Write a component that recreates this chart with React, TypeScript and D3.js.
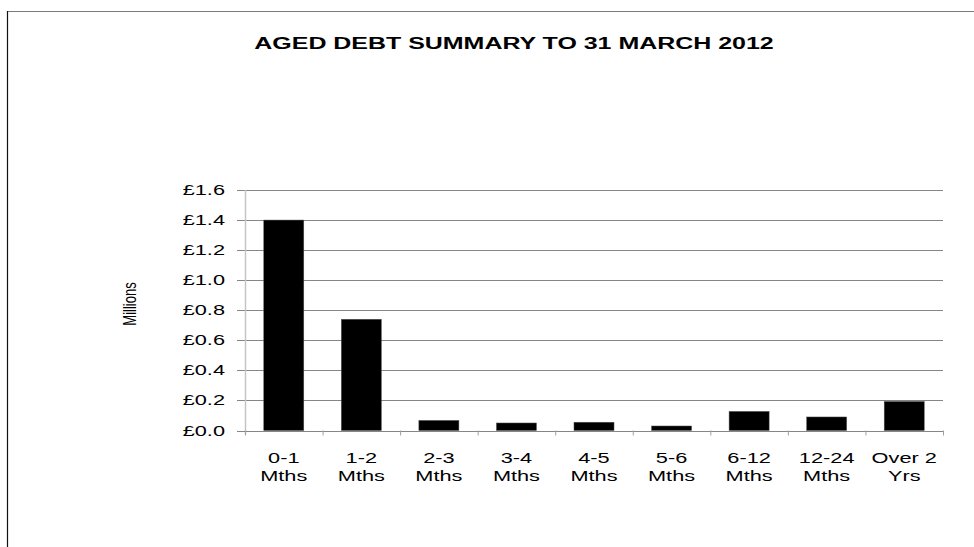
import React from "react";
import * as d3 from "d3";

const categoriesLine1 = ["0-1", "1-2", "2-3", "3-4", "4-5", "5-6", "6-12", "12-24", "Over 2"];
const categoriesLine2 = ["Mths", "Mths", "Mths", "Mths", "Mths", "Mths", "Mths", "Mths", "Yrs"];
const values = [1.40, 0.74, 0.067, 0.05, 0.055, 0.03, 0.127, 0.09, 0.193];
const yTicks = [0, 0.2, 0.4, 0.6, 0.8, 1.0, 1.2, 1.4, 1.6];
const title = "AGED DEBT SUMMARY TO 31 MARCH 2012";
const yTitle = "Millions";

const W = 974;
const H = 547;
const SX = 1.45;
const FONT = "'Liberation Sans', Arial, sans-serif";

export default function App() {
  const left = 245;
  const right = 943;
  const top = 190;
  const bottom = 430.5;
  const x = d3
    .scaleBand<number>()
    .domain(d3.range(values.length))
    .range([left, right])
    .paddingInner(0.484)
    .paddingOuter(0.242);
  const step = (right - left) / values.length;
  const y = d3.scaleLinear().domain([0, 1.6]).range([bottom, top]);

  return (
    <svg
      width={W}
      height={H}
      style={{ position: "absolute", left: 0, top: 0, background: "#fff" }}
    >
      <rect x={0} y={0} width={W} height={H} fill="#fff" />
      {/* outer border */}
      <line x1={7} x2={W} y1={11.5} y2={11.5} stroke="#7a7a7a" strokeWidth={1} />
      <line x1={7.5} x2={7.5} y1={11} y2={H} stroke="#111" strokeWidth={1.2} />

      {/* title */}
      <text
        transform={`translate(514,49) scale(1.56,1)`}
        textAnchor="middle"
        fontFamily={FONT}
        fontWeight="bold"
        fontSize={16}
        fill="#000"
      >
        {title}
      </text>

      {/* gridlines */}
      {yTicks.map((t) => (
        <line
          key={"g" + t}
          x1={237}
          x2={right}
          y1={Math.round(y(t)) + 0.5}
          y2={Math.round(y(t)) + 0.5}
          stroke="#868686"
          strokeWidth={1}
        />
      ))}
      {/* y axis */}
      <line x1={left + 0.5} x2={left + 0.5} y1={top} y2={bottom + 4} stroke="#c4c4c4" strokeWidth={1.5} />

      {/* y tick labels */}
      {yTicks.map((t) => (
        <text
          key={"yl" + t}
          transform={`translate(225,${y(t) + 5}) scale(${SX},1)`}
          textAnchor="end"
          fontFamily={FONT}
          fontSize={15}
          fill="#000"
        >
          {"£" + t.toFixed(1)}
        </text>
      ))}

      {/* y title */}
      <text
        transform={`translate(129.5,304) scale(${SX},1) rotate(-90)`}
        textAnchor="middle"
        dy="0.35em"
        fontFamily={FONT}
        fontSize={13}
        fill="#000"
      >
        {yTitle}
      </text>

      {/* bars */}
      {values.map((v, i) => (
        <rect
          key={"b" + i}
          x={x(i)}
          y={y(v)}
          width={x.bandwidth()}
          height={bottom - y(v)}
          fill="#000"
          stroke="#555"
          strokeWidth={0.5}
        />
      ))}

      {/* x axis line */}
      <line x1={237} x2={right} y1={Math.round(bottom) + 0.5} y2={Math.round(bottom) + 0.5} stroke="#868686" strokeWidth={1} />
      {d3.range(values.length + 1).map((i) => (
        <line
          key={"t" + i}
          x1={left + i * step + 0.5}
          x2={left + i * step + 0.5}
          y1={bottom}
          y2={bottom + 5}
          stroke="#a0a0a0"
          strokeWidth={1}
        />
      ))}

      {/* x labels */}
      {values.map((_, i) => {
        const cx = (x(i) as number) + x.bandwidth() / 2;
        return (
          <g key={"xl" + i}>
            <text
              transform={`translate(${cx},463) scale(${SX},1)`}
              textAnchor="middle"
              fontFamily={FONT}
              fontSize={15}
              fill="#000"
            >
              {categoriesLine1[i]}
            </text>
            <text
              transform={`translate(${cx},481) scale(${SX},1)`}
              textAnchor="middle"
              fontFamily={FONT}
              fontSize={15}
              fill="#000"
            >
              {categoriesLine2[i]}
            </text>
          </g>
        );
      })}
    </svg>
  );
}
